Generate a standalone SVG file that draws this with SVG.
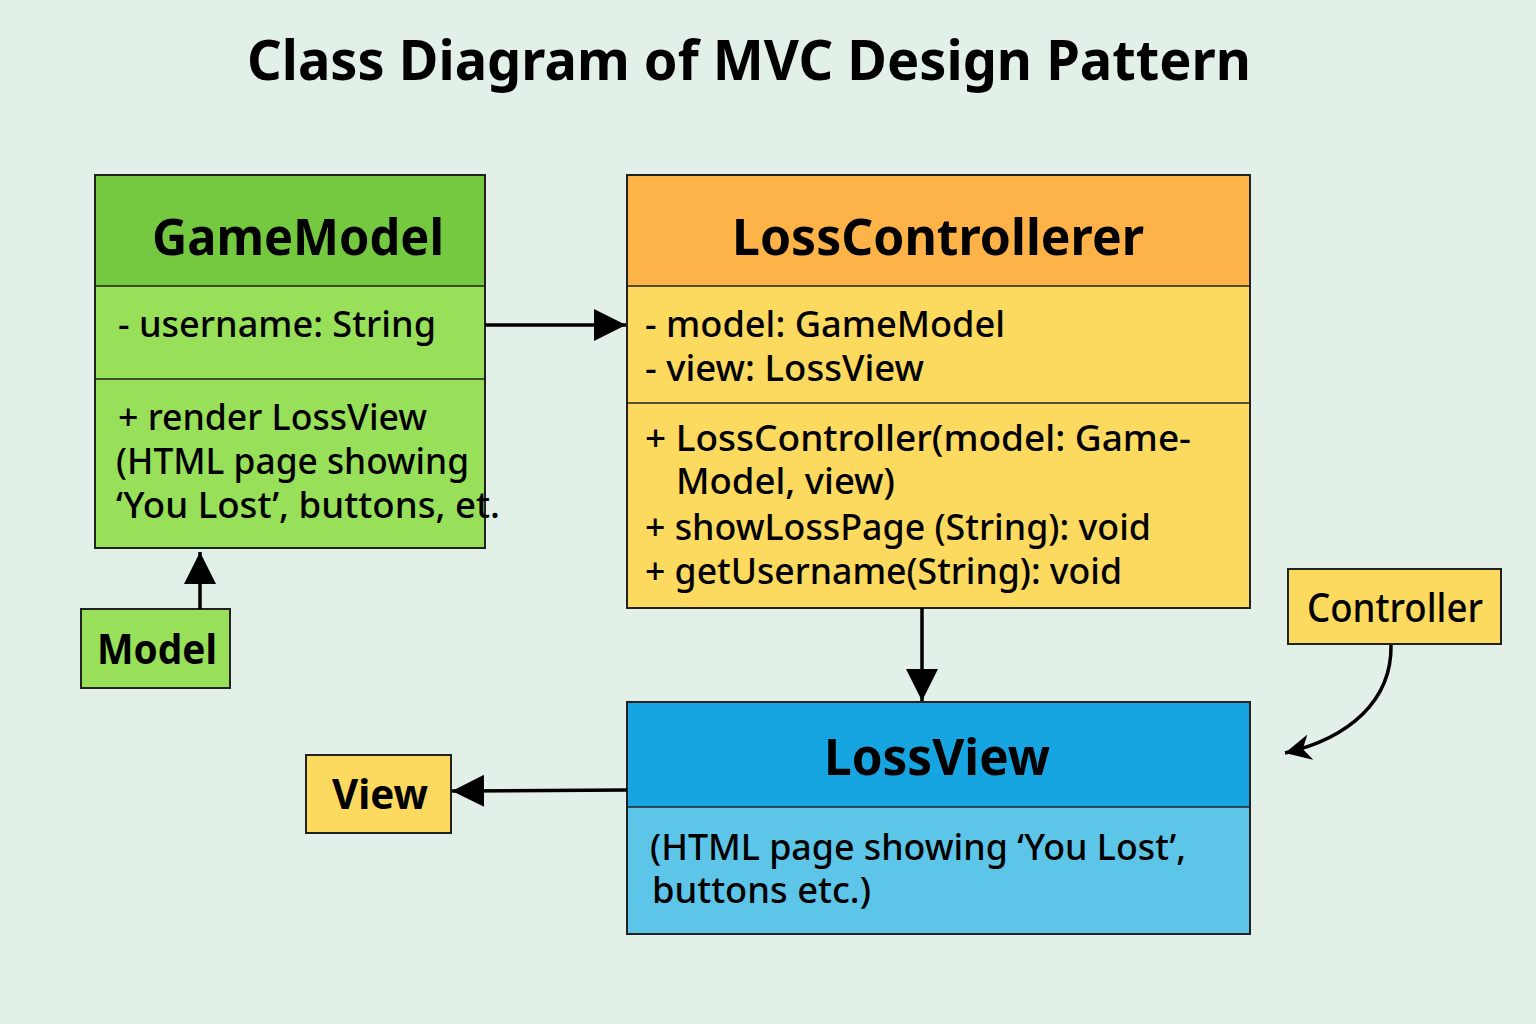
<svg xmlns="http://www.w3.org/2000/svg" width="1536" height="1024" viewBox="0 0 1536 1024">
<defs>
<marker id="ahBig" viewBox="0 0 10 10" refX="10" refY="5" markerWidth="32" markerHeight="32" markerUnits="userSpaceOnUse" orient="auto">
<path d="M0,0 L10,5 L0,10 z" fill="#000"/>
</marker>
<marker id="ahSmall" viewBox="0 0 10 10" refX="10" refY="5" markerWidth="26" markerHeight="26" markerUnits="userSpaceOnUse" orient="auto">
<path d="M0,0 L10,5 L0,10 L3,5 z" fill="#000"/>
</marker>
</defs>
<style>
text{font-family:"Noto Sans","Open Sans","DejaVu Sans",sans-serif;fill:#000;}
.title{font-size:56px;font-weight:700;}
.hdr{font-size:51px;font-weight:700;}
.mem{font-size:37px;font-weight:500;}
.lbl{font-size:41px;font-weight:700;}
.box{stroke:#222;stroke-width:2;}
.sep{stroke:#222;stroke-width:1.5;}
.conn{stroke:#000;stroke-width:3.5;fill:none;}
</style>
<rect x="0" y="0" width="1536" height="1024" fill="#e2f0e7"/>
<text class="title" x="749" y="80" text-anchor="middle" textLength="1004" lengthAdjust="spacingAndGlyphs">Class Diagram of MVC Design Pattern</text>

<g id="GameModel">
<rect class="box" x="95" y="175" width="390" height="373" fill="#98e05a"/>
<rect x="96" y="176" width="388" height="110" fill="#74c940"/>
<line class="sep" x1="95" y1="286" x2="485" y2="286"/>
<line class="sep" x1="95" y1="379" x2="485" y2="379"/>
<text class="hdr" x="298" y="255" text-anchor="middle" textLength="292" lengthAdjust="spacingAndGlyphs">GameModel</text>
<text class="mem" x="118" y="337" textLength="318" lengthAdjust="spacingAndGlyphs">- username: String</text>
<text class="mem" x="118" y="430" textLength="309" lengthAdjust="spacingAndGlyphs">+ render LossView</text>
<text class="mem" x="116" y="474" textLength="353" lengthAdjust="spacingAndGlyphs">(HTML page showing</text>
<text class="mem" x="116" y="518" textLength="384" lengthAdjust="spacingAndGlyphs">‘You Lost’, buttons, et.</text>
</g>

<g id="Model">
<rect class="box" x="81" y="609" width="149" height="79" fill="#98e05a"/>
<text class="lbl" x="157" y="664" text-anchor="middle" textLength="120" lengthAdjust="spacingAndGlyphs">Model</text>
</g>

<g id="LossControllerer">
<rect class="box" x="627" y="175" width="623" height="433" fill="#fcd95f"/>
<rect x="628" y="176" width="621" height="110" fill="#fdb347"/>
<line class="sep" x1="627" y1="286" x2="1250" y2="286"/>
<line class="sep" x1="627" y1="403" x2="1250" y2="403"/>
<text class="hdr" x="938" y="255" text-anchor="middle" textLength="412" lengthAdjust="spacingAndGlyphs">LossControllerer</text>
<text class="mem" x="645" y="337" textLength="360" lengthAdjust="spacingAndGlyphs">- model: GameModel</text>
<text class="mem" x="645" y="381" textLength="279" lengthAdjust="spacingAndGlyphs">- view: LossView</text>
<text class="mem" x="645" y="451" textLength="546" lengthAdjust="spacingAndGlyphs">+ LossController(model: Game-</text>
<text class="mem" x="676" y="494" textLength="219" lengthAdjust="spacingAndGlyphs">Model, view)</text>
<text class="mem" x="645" y="540" textLength="506" lengthAdjust="spacingAndGlyphs">+ showLossPage (String): void</text>
<text class="mem" x="645" y="584" textLength="477" lengthAdjust="spacingAndGlyphs">+ getUsername(String): void</text>
</g>

<g id="LossView">
<rect class="box" x="627" y="702" width="623" height="232" fill="#5dc5e8"/>
<rect x="628" y="703" width="621" height="104" fill="#16a5e0"/>
<line class="sep" x1="627" y1="807" x2="1250" y2="807"/>
<text class="hdr" x="937" y="775" text-anchor="middle" textLength="226" lengthAdjust="spacingAndGlyphs">LossView</text>
<text class="mem" x="650" y="860" textLength="536" lengthAdjust="spacingAndGlyphs">(HTML page showing ‘You Lost’,</text>
<text class="mem" x="652" y="903" textLength="219" lengthAdjust="spacingAndGlyphs">buttons etc.)</text>
</g>

<g id="View">
<rect class="box" x="306" y="755" width="145" height="78" fill="#fcd95f"/>
<text class="lbl" x="380" y="809" text-anchor="middle" textLength="96" lengthAdjust="spacingAndGlyphs">View</text>
</g>

<g id="Controller">
<rect class="box" x="1288" y="569" width="213" height="75" fill="#fcd95f"/>
<text x="1395" y="622" text-anchor="middle" style="font-size:39px;font-weight:500" textLength="176" lengthAdjust="spacingAndGlyphs">Controller</text>
</g>

<g id="connectors">
<line class="conn" x1="200" y1="609" x2="200" y2="552" marker-end="url(#ahBig)"/>
<line class="conn" x1="485" y1="325" x2="626" y2="325" marker-end="url(#ahBig)"/>
<line class="conn" x1="922" y1="608" x2="922" y2="701" marker-end="url(#ahBig)"/>
<line class="conn" x1="627" y1="790" x2="452" y2="791" marker-end="url(#ahBig)"/>
<path class="conn" d="M1391,645 C1392,700 1350,738 1285,753" marker-end="url(#ahSmall)"/>
</g>
</svg>
